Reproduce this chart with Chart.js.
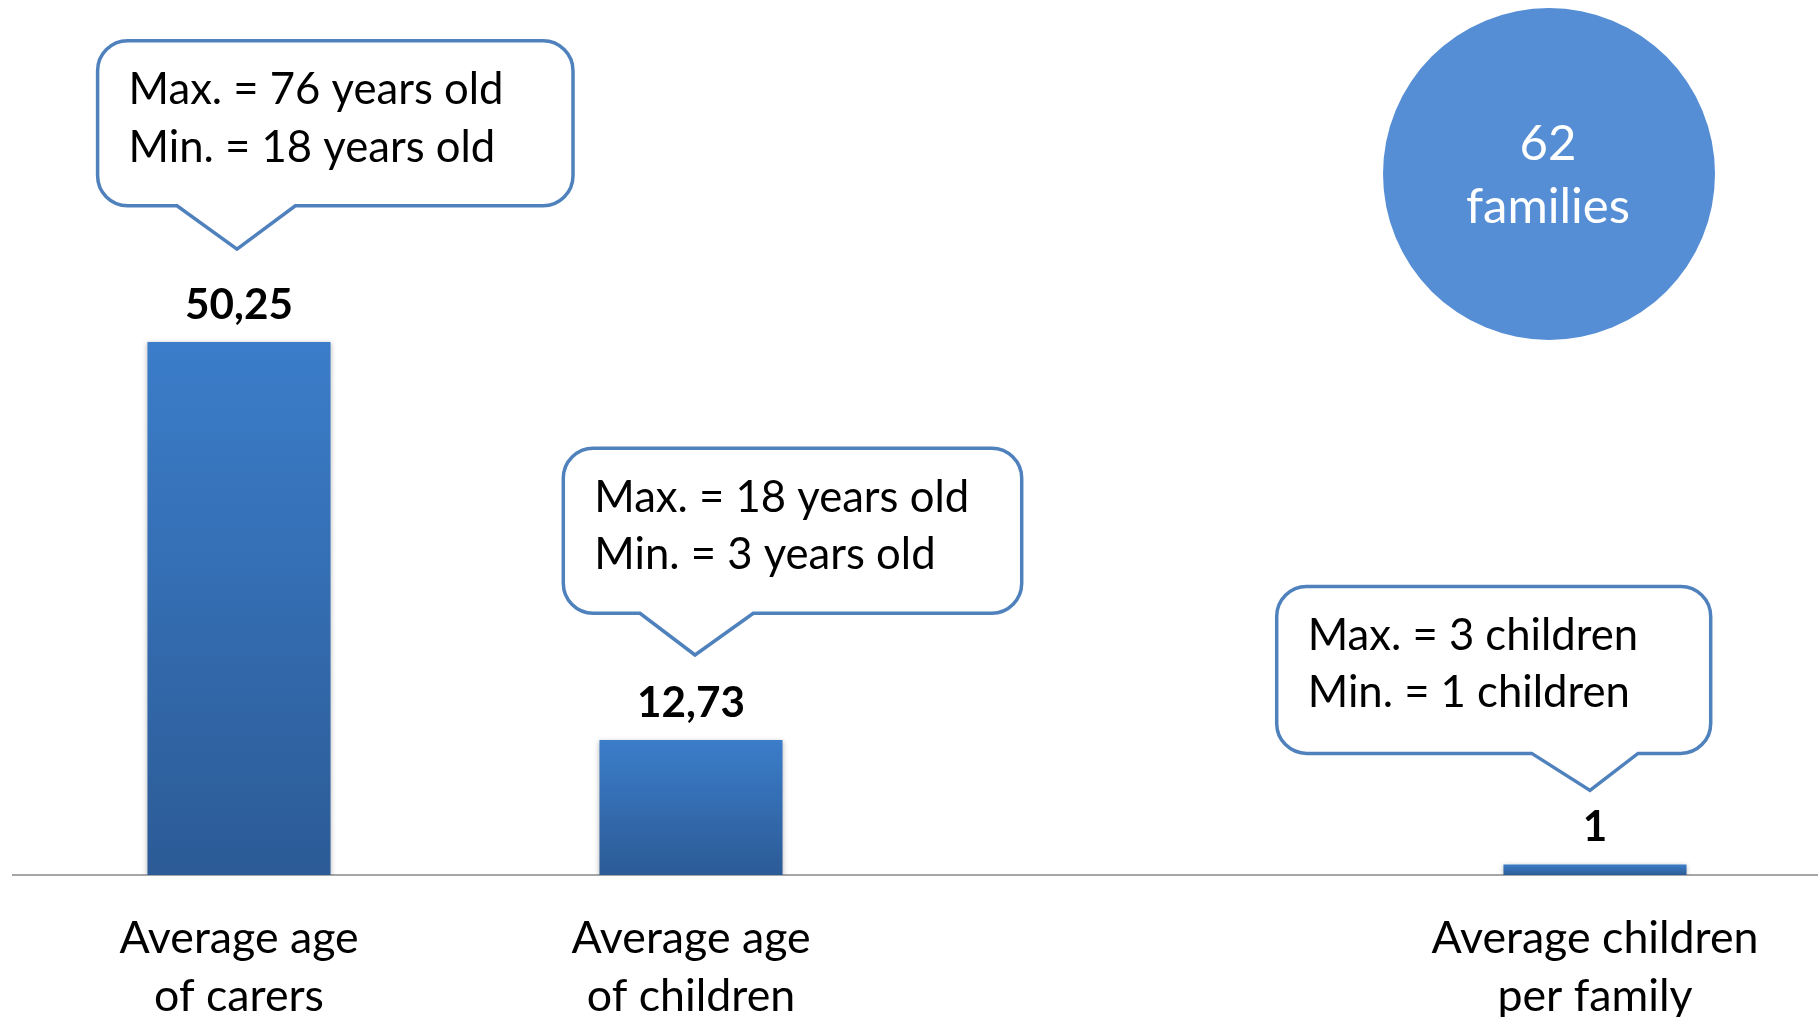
<!DOCTYPE html>
<html><head><meta charset="utf-8">
<script src="https://cdn.jsdelivr.net/npm/chart.js@4/dist/chart.umd.min.js"></script>
<style>html,body{margin:0;padding:0;background:#fff;overflow:hidden}#wrap{width:1822px;height:1017px;position:relative}</style>
</head><body><div id="wrap"><canvas id="c"></canvas></div>
<script>
// ---- data ----
const categories = [["Average age","of carers"],["Average age","of children"],"",["Average children","per family"]];
const values = [50.25, 12.73, null, 1];
const maxLabels = ["Max. = 76 years old","Max. = 18 years old",null,"Max. = 3 children"];
const minLabels = ["Min. = 18 years old","Min. = 3 years old",null,"Min. = 1 children"];
const totalLines = ["62","families"];

// ---- style ----
const FAMILY = 'Lato, "Open Sans", sans-serif';
function fitSize(text, target, weight){
  const c = document.createElement('canvas').getContext('2d');
  c.font = weight + ' 100px ' + FAMILY;
  return 100 * target / c.measureText(text).width;
}
const FS = fitSize('Max. = 76 years old', 375, 'normal');
const FS_TICK = fitSize('Average children', 327, 'normal');
const FS_CIRCLE = fitSize('families', 164, 'normal');
const FSB = fitSize('50,25', 108, 'bold');
const LINE_H = 58.5;

// callout geometry relative to the tip (tip anchored at bar centre, above bar top)
const calloutStyle = [
  {tipDx:-2, tipDy:93, left:-139.4, right:336, top:-208.3, bottom:-43.3, baseL:-60, baseR:58.3},
  {tipDx:4,  tipDy:85, left:-131.7, right:326.7, top:-206.7, bottom:-41.7, baseL:-55, baseR:58.3},
  null,
  {tipDx:-5, tipDy:74, left:-313.3, right:120.7, top:-204, bottom:-37, baseL:-58.3, baseR:48}
];

const barShadow = {
  id:'barShadow',
  beforeDatasetsDraw(chart){ const c=chart.ctx; c.save(); c.shadowColor='rgba(0,0,0,0.28)'; c.shadowBlur=5; c.shadowOffsetY=1; },
  afterDatasetsDraw(chart){ chart.ctx.restore(); }
};

function roundedCallout(c, L, T, R, B, tx, ty, bl, br, r){
  c.beginPath();
  c.moveTo(L + r, T);
  c.lineTo(R - r, T);
  c.arcTo(R, T, R, T + r, r);
  c.lineTo(R, B - r);
  c.arcTo(R, B, R - r, B, r);
  c.lineTo(tx + br, B);
  c.lineTo(tx, ty);
  c.lineTo(tx + bl, B);
  c.lineTo(L + r, B);
  c.arcTo(L, B, L, B - r, r);
  c.lineTo(L, T + r);
  c.arcTo(L, T, L + r, T, r);
  c.closePath();
}

const overlay = {
  id:'overlay',
  afterDraw(chart){
    const c = chart.ctx;
    const meta = chart.getDatasetMeta(0);
    c.save();
    // value labels
    c.fillStyle = '#000';
    c.textAlign = 'center';
    c.textBaseline = 'alphabetic';
    c.font = 'bold ' + FSB + 'px ' + FAMILY;
    values.forEach((v, i) => {
      if (v == null) return;
      const el = meta.data[i];
      c.fillText(String(v).replace('.', ','), el.x, el.y - 23);
    });
    // callouts
    values.forEach((v, i) => {
      const s = calloutStyle[i];
      if (v == null || !s) return;
      const el = meta.data[i];
      const tx = el.x + s.tipDx, ty = el.y - s.tipDy;
      const L = tx + s.left, R = tx + s.right, T = ty + s.top, B = ty + s.bottom;
      roundedCallout(c, L, T, R, B, tx, ty, s.baseL, s.baseR, 30);
      c.fillStyle = '#fff';
      c.fill();
      c.lineWidth = 3.5;
      c.strokeStyle = '#4F81BD';
      c.lineJoin = 'miter';
      c.stroke();
      c.fillStyle = '#000';
      c.textAlign = 'left';
      c.font = FS + 'px ' + FAMILY;
      c.fillText(maxLabels[i], L + 31, T + 63.5);
      c.fillText(minLabels[i], L + 31, T + 121);
    });
    // total families circle
    c.beginPath();
    c.arc(1549, 174, 166, 0, Math.PI * 2);
    c.fillStyle = '#558ED5';
    c.fill();
    c.fillStyle = '#fff';
    c.textAlign = 'center';
    c.font = FS_CIRCLE + 'px ' + FAMILY;
    c.fillText(totalLines[0], 1548, 160);
    c.fillText(totalLines[1], 1548, 223);
    c.restore();
  }
};

function barFill(ctx){
  const chart = ctx.chart;
  if (!chart.chartArea || ctx.type !== 'data' || ctx.raw == null) return '#3A7AC5';
  const y = chart.scales.y;
  const top = y.getPixelForValue(ctx.raw), bot = y.getPixelForValue(0);
  const g = chart.ctx.createLinearGradient(0, top, 0, bot);
  g.addColorStop(0, '#3B7DCA');
  g.addColorStop(1, '#2C5B96');
  return g;
}

new Chart(document.getElementById('c'), {
  type: 'bar',
  data: {
    labels: categories,
    datasets: [{ data: values, backgroundColor: barFill, borderWidth: 0, barPercentage: 0.405, categoryPercentage: 1 }]
  },
  options: {
    responsive: true,
    maintainAspectRatio: false,
    animation: false,
    layout: { padding: { left: 13, right: 1, top: 0, bottom: 0 } },
    plugins: { legend: { display: false }, tooltip: { enabled: false } },
    scales: {
      x: {
        grid: { display: false, drawTicks: false },
        border: { display: true, color: '#A6A6A6', width: 2 },
        ticks: { color: '#000', padding: 34, maxRotation: 0, autoSkip: false,
                 font: { family: FAMILY, size: FS_TICK, lineHeight: LINE_H / FS_TICK } },
        afterFit(scale){ scale.height = 142; }
      },
      y: { display: false, min: 0, max: 82.5 }
    }
  },
  plugins: [barShadow, overlay]
});
</script>
</body></html>
